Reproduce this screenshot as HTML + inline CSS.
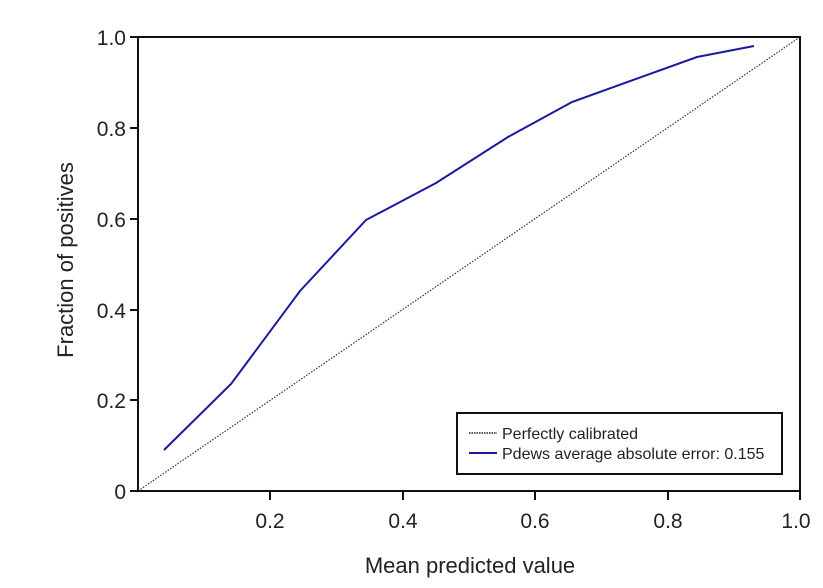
<!DOCTYPE html>
<html><head><style>body{margin:0;background:#fff}svg{display:block}</style></head>
<body>
<svg width="823" height="588" xmlns="http://www.w3.org/2000/svg" font-family="Liberation Sans, sans-serif" fill="#222">
<line x1="138" y1="491" x2="800" y2="37" stroke="#333" stroke-width="1.2" stroke-dasharray="1.5,1.5"/>
<polyline fill="none" stroke="#1a1aa0" stroke-width="2" points="164,450 231,384 300,291 366,220 436,183 508,137 572,102 697,57 754,46"/>
<path d="M138,37 H800 V491 H138 Z" fill="none" stroke="#111" stroke-width="2"/>
<g stroke="#111" stroke-width="2">
<line x1="130" y1="37" x2="138" y2="37"/><line x1="130" y1="128" x2="138" y2="128"/><line x1="130" y1="219" x2="138" y2="219"/><line x1="130" y1="310" x2="138" y2="310"/><line x1="130" y1="400" x2="138" y2="400"/><line x1="130" y1="491" x2="138" y2="491"/>
<line x1="270" y1="491" x2="270" y2="500"/><line x1="403" y1="491" x2="403" y2="500"/><line x1="535" y1="491" x2="535" y2="500"/><line x1="668" y1="491" x2="668" y2="500"/><line x1="800" y1="491" x2="800" y2="500"/>
</g>
<g font-size="21" text-anchor="end">
<text x="126" y="45">1.0</text><text x="126" y="136">0.8</text><text x="126" y="227">0.6</text><text x="126" y="318">0.4</text><text x="126" y="408">0.2</text><text x="126" y="499">0</text>
</g>
<g font-size="21" text-anchor="middle">
<text x="270" y="528">0.2</text><text x="403" y="528">0.4</text><text x="535" y="528">0.6</text><text x="668" y="528">0.8</text><text x="796" y="528">1.0</text>
<text x="470" y="573" font-size="22">Mean predicted value</text>
<text transform="translate(73,260) rotate(-90)" font-size="22">Fraction of positives</text>
</g>
<rect x="457" y="413" width="325" height="61" fill="#fff" stroke="#111" stroke-width="2"/>
<line x1="469" y1="433" x2="497" y2="433" stroke="#222" stroke-width="1.5" stroke-dasharray="1.5,1"/>
<line x1="469" y1="453" x2="497" y2="453" stroke="#1a1aa0" stroke-width="2"/>
<g font-size="16"><text x="502" y="439">Perfectly calibrated</text><text x="502" y="459">Pdews average absolute error: 0.155</text></g>
</svg>
</body></html>
